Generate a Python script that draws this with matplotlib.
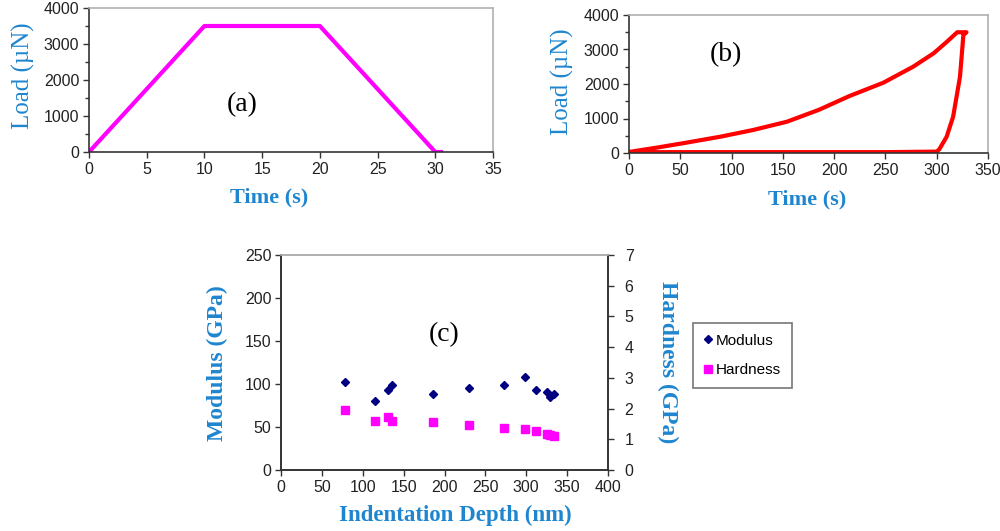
import numpy as np
import matplotlib
matplotlib.use("Agg")
import matplotlib.pyplot as plt
from matplotlib.lines import Line2D
from matplotlib import font_manager

# (a) load function
time_a = [0, 10, 20, 30, 30.5]
load_a = [0, 3500, 3500, 0, 0]

# (b) measured load vs time
time_b = [0, 30, 56, 89, 121, 154, 185, 215, 248, 277, 297, 310, 320, 329,
          326, 322.7, 316, 309.7, 302.5, 300, 250, 150, 50, 0]
load_b = [30, 170, 300, 472, 667, 907, 1250, 1652, 2038, 2501, 2890, 3226, 3500, 3500,
          3420, 2212, 1052, 472, 107, 40, 25, 25, 25, 25]

# (c) modulus and hardness vs indentation depth
depth = [78, 115, 131, 136, 186, 230, 273, 298, 312, 325, 329, 334]
modulus = [102.5, 80, 92.5, 98.3, 88.3, 95.3, 98.4, 108, 92.5, 90.7, 84.7, 88]
hardness = [1.96, 1.61, 1.72, 1.61, 1.56, 1.48, 1.37, 1.35, 1.27, 1.16, 1.13, 1.11]

blue = "#1E86CF"
serif = "Liberation Serif"
plt.rcParams["font.family"] = serif

names = {f.name for f in font_manager.fontManager.ttflist}
tick_font = "Liberation Sans Narrow" if "Liberation Sans Narrow" in names else "Liberation Sans"
tick_size = 13 if tick_font == "Liberation Sans Narrow" else 11.5

W, H = 1000, 531
fig = plt.figure(figsize=(W / 100, H / 100), dpi=100)


def box(l, t, r, b):
    return [l / W, 1 - b / H, (r - l) / W, (b - t) / H]


def style(ax):
    for s in ["left", "bottom"]:
        ax.spines[s].set_color("#333333")
        ax.spines[s].set_linewidth(1.2)
    for s in ["top", "right"]:
        ax.spines[s].set_color("#b0b0b0")
        ax.spines[s].set_linewidth(1.2)
    ax.tick_params(which="both", direction="out", length=4, width=1, color="#333333",
                   labelsize=tick_size, pad=3)
    ax.tick_params(which="minor", length=3)
    for lab in ax.get_xticklabels() + ax.get_yticklabels():
        lab.set_fontfamily(tick_font)
        lab.set_color("#222222")


# ---- (a)
ax1 = fig.add_axes(box(89, 8, 493, 152))
ax1.plot(time_a, load_a, color="#FF00FF", lw=3)
ax1.set_xlim(0, 35)
ax1.set_ylim(0, 4000)
ax1.set_xticks(np.arange(0, 36, 5))
ax1.set_yticks(np.arange(0, 4001, 1000))
ax1.set_yticks(np.arange(0, 4001, 500), minor=True)
style(ax1)
ax1.text(0.38, 0.33, "(a)", transform=ax1.transAxes, fontsize=20, ha="center", va="center")
fig.text(23 / W, 1 - 75.5 / H, "Load (µN)", rotation=90, ha="center", va="center",
         color=blue, fontsize=18)
fig.text(269 / W, 1 - 197 / H, "Time (s)", ha="center", va="center",
         color=blue, fontsize=16, fontweight="bold")

# ---- (b)
ax2 = fig.add_axes(box(629, 15, 988, 153))
ax2.plot(time_b, load_b, color="#FF0000", lw=3)
ax2.set_xlim(0, 350)
ax2.set_ylim(0, 4000)
ax2.set_xticks(np.arange(0, 351, 50))
ax2.set_yticks(np.arange(0, 4001, 1000))
ax2.set_yticks(np.arange(0, 4001, 500), minor=True)
style(ax2)
ax2.text(0.27, 0.71, "(b)", transform=ax2.transAxes, fontsize=20, ha="center", va="center")
fig.text(562 / W, 1 - 81.5 / H, "Load (µN)", rotation=90, ha="center", va="center",
         color=blue, fontsize=18)
fig.text(807 / W, 1 - 199 / H, "Time (s)", ha="center", va="center",
         color=blue, fontsize=16, fontweight="bold")

# ---- (c)
ax3 = fig.add_axes(box(281, 255, 608, 470))
ax3.plot(depth, modulus, linestyle="none", marker="D", ms=4, color="#000080", label="Modulus")
ax3.set_xlim(0, 400)
ax3.set_ylim(0, 250)
ax3.set_xticks(np.arange(0, 401, 50))
ax3.set_yticks(np.arange(0, 251, 50))
style(ax3)
ax3.spines["right"].set_color("#333333")
ax3.text(0.5, 0.63, "(c)", transform=ax3.transAxes, fontsize=20, ha="center", va="center")

ax4 = ax3.twinx()
ax4.plot(depth, hardness, linestyle="none", marker="s", ms=5.5, color="#FF00FF", label="Hardness")
ax4.set_ylim(0, 7)
ax4.set_yticks(np.arange(0, 8, 1))
style(ax4)
ax4.spines["right"].set_color("#333333")
ax4.tick_params(axis="y", pad=8)

fig.text(217 / W, 1 - 363.5 / H, "Modulus (GPa)", rotation=90, ha="center", va="center",
         color=blue, fontsize=17, fontweight="bold")
fig.text(455.5 / W, 1 - 515 / H, "Indentation Depth (nm)", ha="center", va="center",
         color=blue, fontsize=16.5, fontweight="bold")
fig.text(667.5 / W, 1 - 362.5 / H, "Hardness (GPa)", rotation=-90, ha="center", va="center",
         color=blue, fontsize=17, fontweight="bold")

handles = [
    Line2D([], [], linestyle="none", marker="D", ms=4.5, color="#000080", label="Modulus"),
    Line2D([], [], linestyle="none", marker="s", ms=6, color="#FF00FF", label="Hardness"),
]
leg = fig.legend(handles=handles, loc="upper left", bbox_to_anchor=(693 / W, 1 - 323 / H),
                 prop={"family": "Liberation Sans", "size": 11}, frameon=True, fancybox=False,
                 handlelength=0.6, handletextpad=0.2, borderpad=0.7, labelspacing=1.0,
                 borderaxespad=0)
leg.get_frame().set_edgecolor("#555555")
leg.get_frame().set_linewidth(1.2)

fig.savefig("out.png", dpi=100)
